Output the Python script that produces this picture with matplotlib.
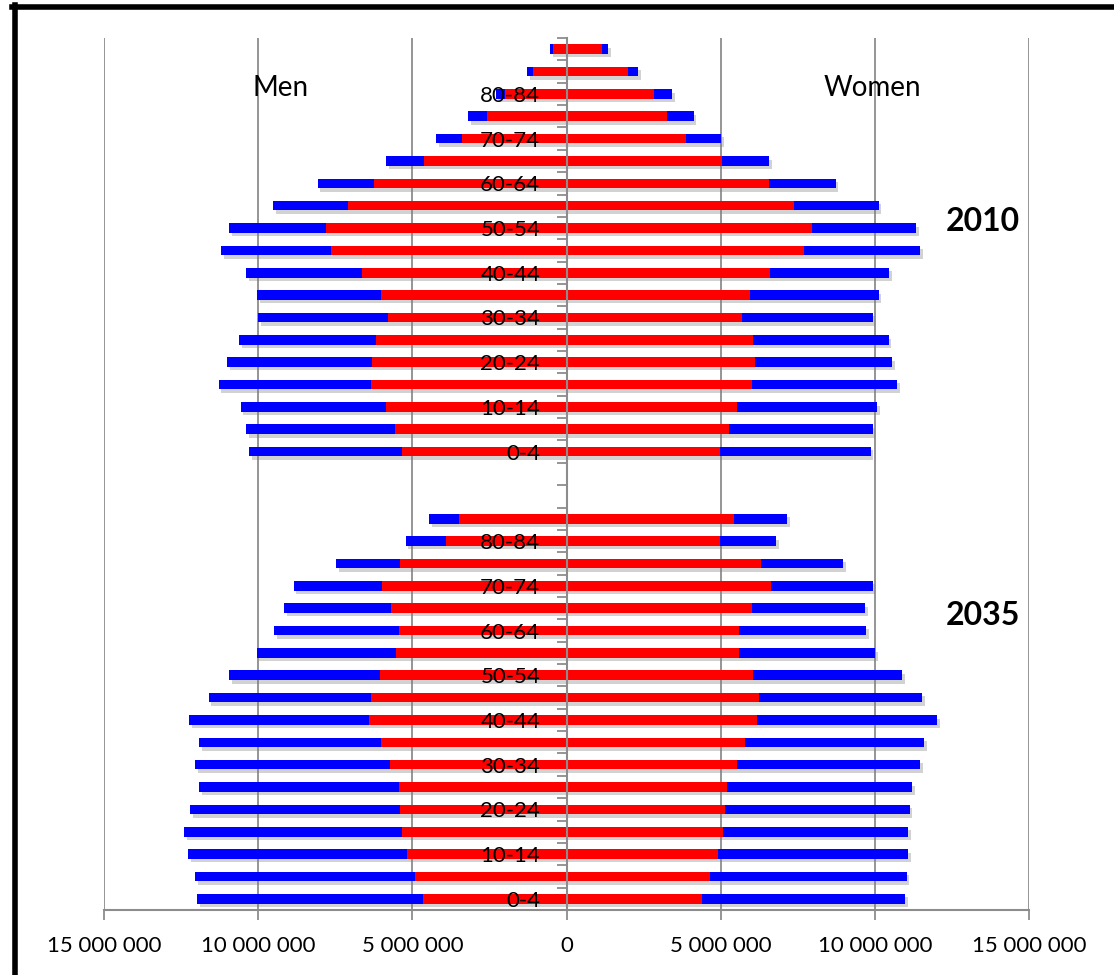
import numpy as np
import matplotlib
matplotlib.use('Agg')
import matplotlib.pyplot as plt
import matplotlib.patheffects as pe
from matplotlib.lines import Line2D
from matplotlib.ticker import FixedLocator, FuncFormatter

plt.rcParams['font.family'] = ['Lato', 'DejaVu Sans']

# values in millions, from the youngest age group upwards
age_labels = ['0-4', '10-14', '20-24', '30-34', '40-44', '50-54', '60-64', '70-74', '80-84']

men_2010_total = [10.30, 10.38, 10.57, 11.28, 11.00, 10.63, 9.99, 10.03, 10.39, 11.20,
                  10.93, 9.51, 8.07, 5.84, 4.24, 3.18, 2.30, 1.27, 0.52]
men_2010_red = [5.35, 5.56, 5.86, 6.33, 6.31, 6.18, 5.80, 6.03, 6.63, 7.63,
                7.81, 7.09, 6.24, 4.62, 3.38, 2.59, 1.98, 1.09, 0.43]
women_2010_total = [9.86, 9.93, 10.08, 10.72, 10.55, 10.45, 9.93, 10.12, 10.47, 11.48,
                    11.34, 10.12, 8.73, 6.57, 5.02, 4.12, 3.43, 2.33, 1.35]
women_2010_red = [4.98, 5.27, 5.53, 6.00, 6.11, 6.05, 5.69, 5.94, 6.59, 7.70,
                  7.96, 7.37, 6.58, 5.04, 3.89, 3.27, 2.83, 1.99, 1.16]

men_2035_total = [11.99, 12.04, 12.26, 12.41, 12.21, 11.92, 12.04, 11.92, 12.23,
                  11.61, 10.93, 10.05, 9.49, 9.16, 8.85, 7.48, 5.22, 4.46]
men_2035_red = [4.65, 4.92, 5.18, 5.35, 5.39, 5.42, 5.73, 6.03, 6.42,
                6.35, 6.06, 5.54, 5.43, 5.70, 5.98, 5.40, 3.92, 3.48]
women_2035_total = [10.97, 11.03, 11.07, 11.09, 11.13, 11.20, 11.46, 11.61, 12.03,
                    11.54, 10.88, 10.01, 9.71, 9.69, 9.93, 8.97, 6.81, 7.15]
women_2035_red = [4.41, 4.66, 4.91, 5.08, 5.13, 5.22, 5.52, 5.79, 6.19,
                  6.23, 6.04, 5.58, 5.60, 6.03, 6.64, 6.30, 4.98, 5.43]

x_ticks = [-15e6, -10e6, -5e6, 0, 5e6, 10e6, 15e6]

fig = plt.figure(figsize=(11.14, 9.75), dpi=100)
ax = fig.add_axes([104 / 1114, 1 - 910 / 975, 925 / 1114, 872 / 975])

# 2035 block at rows 0..17, gap, 2010 block at rows 20..38
pos_2035 = np.arange(len(men_2035_total))
pos_2010 = np.arange(len(men_2010_total)) + 20

shadow = [pe.SimplePatchShadow(offset=(2, -2.5), shadow_rgbFace='#808080', alpha=0.35), pe.Normal()]
h = 0.43


def draw_block(pos, men_tot, men_red, wom_tot, wom_red):
    for vals, sign in [(men_tot, -1), (wom_tot, 1)]:
        bars = ax.barh(pos, sign * np.array(vals) * 1e6, height=h, color='#0000FF', zorder=1)
        for b in bars:
            b.set_path_effects(shadow)
    for vals, sign in [(men_red, -1), (wom_red, 1)]:
        ax.barh(pos, sign * np.array(vals) * 1e6, height=h, color='#FF0000', zorder=1.5)


draw_block(pos_2035, men_2035_total, men_2035_red, women_2035_total, women_2035_red)
draw_block(pos_2010, men_2010_total, men_2010_red, women_2010_total, women_2010_red)

for x in x_ticks:
    if x != 0:
        ax.axvline(x, color='#8c8c8c', lw=1.3, zorder=0)

ax.set_xlim(-15e6, 15e6)
ax.set_ylim(-0.5, 38.5)

for s in ['top', 'right']:
    ax.spines[s].set_visible(False)
ax.spines['left'].set_position(('data', 0))
ax.spines['left'].set_color('#8c8c8c')
ax.spines['left'].set_linewidth(1.5)
ax.spines['bottom'].set_color('#8c8c8c')
ax.spines['bottom'].set_linewidth(1.5)

ax.set_xticks(x_ticks)
ax.xaxis.set_major_formatter(FuncFormatter(lambda v, p: f'{abs(int(v)):,}'.replace(',', ' ')))
ax.tick_params(axis='x', length=7, width=1.3, color='#8c8c8c', pad=12, labelsize=16)

label_pos = list(pos_2035[::2][:9]) + list(pos_2010[::2][:9])
ax.yaxis.set_major_locator(FixedLocator(label_pos))
ax.set_yticklabels(age_labels + age_labels)
ax.yaxis.set_minor_locator(FixedLocator(np.arange(-0.5, 39, 1.0)))
ax.tick_params(axis='y', which='major', length=0, pad=19, labelsize=16)
ax.tick_params(axis='y', which='minor', length=7, width=1.3, color='#8c8c8c')

ax.text(-9.26e6, 36.25, 'Men', fontsize=20, ha='center', va='center')
ax.text(9.91e6, 36.25, 'Women', fontsize=20, ha='center', va='center')
ax.text(13.5e6, 30.3, '2010', fontsize=23, fontweight='bold', ha='center', va='center')
ax.text(13.5e6, 12.66, '2035', fontsize=23, fontweight='bold', ha='center', va='center')

# black frame along the top and left edges
fig.add_artist(Line2D([12 / 1114, 1], [1 - 7 / 975, 1 - 7 / 975], color='black', lw=4))
fig.add_artist(Line2D([14.5 / 1114, 14.5 / 1114], [0, 1 - 4.5 / 975], color='black', lw=4))

fig.savefig('out.png', dpi=100)
